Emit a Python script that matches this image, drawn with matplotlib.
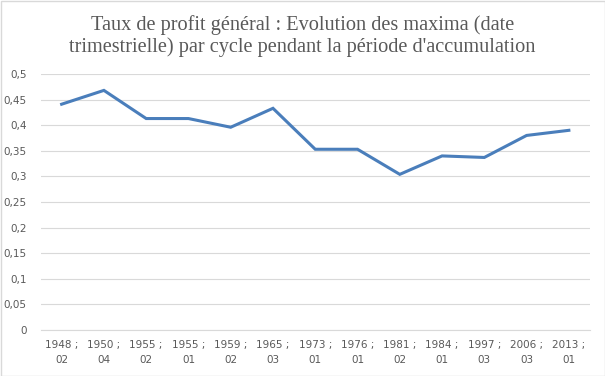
import matplotlib
matplotlib.use("Agg")
import matplotlib.pyplot as plt
from matplotlib.patches import Rectangle

categories = ["1948 ;\n02", "1950 ;\n04", "1955 ;\n02", "1955 ;\n01", "1959 ;\n02", "1965 ;\n03",
              "1973 ;\n01", "1976 ;\n01", "1981 ;\n02", "1984 ;\n01", "1997 ;\n03", "2006 ;\n03",
              "2013 ;\n01"]
values = [0.441, 0.468, 0.413, 0.413, 0.396, 0.433, 0.353, 0.353, 0.304, 0.340, 0.337, 0.380, 0.390]
yticks = [0, 0.05, 0.1, 0.15, 0.2, 0.25, 0.3, 0.35, 0.4, 0.45, 0.5]
ytick_labels = ["0", "0,05", "0,1", "0,15", "0,2", "0,25", "0,3", "0,35", "0,4", "0,45", "0,5"]
title = "Taux de profit général : Evolution des maxima (date\ntrimestrielle) par cycle pendant la période d'accumulation"

W, H = 605, 376
fig = plt.figure(figsize=(W / 100, H / 100), dpi=100)
fig.patches.append(Rectangle((0.5 / W, 0.5 / H), 1 - 1.0 / W, 1 - 1.0 / H, transform=fig.transFigure,
                             fill=False, edgecolor="#d9d9d9", linewidth=1))
ax = fig.add_axes([40.5 / W, 1 - 330 / H, (590 - 40.5) / W, (330 - 74) / H])

x = list(range(len(values)))
ax.plot(x, values, color="#4a7ebb", linewidth=2.2, solid_joinstyle="miter", zorder=3)
ax.set_xlim(-0.5, len(values) - 0.5)
ax.set_ylim(0, 0.5)
ax.set_yticks(yticks)
ax.set_yticklabels(ytick_labels)
ax.set_xticks(x)
ax.set_xticklabels(categories, linespacing=1.6)
ax.tick_params(axis="both", length=0, labelsize=7.5, labelcolor="#595959")
ax.tick_params(axis="y", pad=10)
ax.tick_params(axis="x", pad=7)
for s in ["top", "right", "left"]:
    ax.spines[s].set_visible(False)
ax.spines["bottom"].set_color("#d9d9d9")
ax.spines["bottom"].set_linewidth(0.8)
ax.yaxis.grid(True, color="#d9d9d9", linewidth=0.8)
ax.set_axisbelow(True)

fig.text(0.5, 1 - 36 / H, title, ha="center", va="center", fontsize=14.6, color="#595959",
         family="Liberation Serif", linespacing=1.1)

fig.savefig("out.png", dpi=100)
